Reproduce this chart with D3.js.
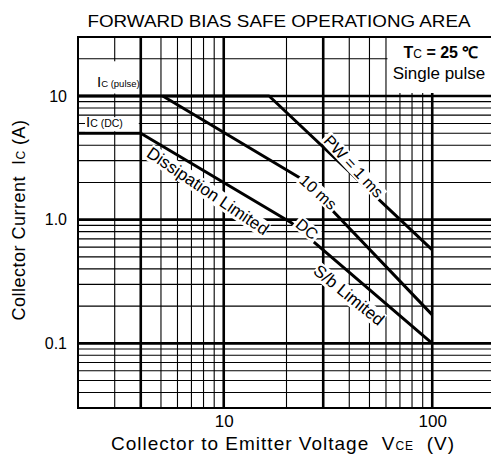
<!DOCTYPE html>
<html>
<head>
<meta charset="utf-8">
<script src="https://cdnjs.cloudflare.com/ajax/libs/d3/7.8.5/d3.min.js"></script>
<style>
  body { margin: 0; background: #fff; }
  svg { display: block; font-family: "Liberation Sans", Arial, sans-serif; }
  text { white-space: pre; }
</style>
</head>
<body>
<svg id="chart"></svg>
<script>
// axis tick labels
const xTicks = [10, 100];
const yTicks = [0.1, 1, 10];
const yTickLabels = ["0.1", "1.0", "10"];

// graph paper lines
const xGrid = [3, 4, 5, 6, 7, 8, 9, 10, 20, 30, 40, 50, 60, 70, 80, 90, 100];
const xGridHeavy = [4, 10, 30, 100];
const yGrid = [0.04, 0.05, 0.06, 0.07, 0.08, 0.09, 0.1, 0.2, 0.3, 0.4, 0.5, 0.6, 0.7, 0.8, 0.9,
  1, 2, 3, 4, 5, 6, 7, 8, 9, 10, 20];
const yGridHeavy = [0.1, 1, 10];

// limit curves, VCE (V) / IC (A)
const dcV = [2, 4, 21, 100];
const dcI = [5, 5, 0.95, 0.1];
const pw10V = [5.1, 24, 100];
const pw10I = [10, 2.1, 0.17];
const pw1V = [2, 16.5, 100];
const pw1I = [10, 10, 0.57];

const width = 491;
const height = 460;

const svg = d3.select("#chart").attr("width", width).attr("height", height);

const x = d3.scaleLog().domain([2, 200]).range([78, 495]);
const y = d3.scaleLog().domain([0.03, 30]).range([408, 37]);

// grid
svg.append("g")
  .selectAll("line")
  .data(xGrid)
  .enter()
  .append("line")
  .attr("x1", (d) => x(d))
  .attr("x2", (d) => x(d))
  .attr("y1", y(0.03))
  .attr("y2", y(30))
  .attr("stroke", "#000")
  .attr("stroke-width", (d) => (xGridHeavy.includes(d) ? 2.6 : 1.1));

svg.append("g")
  .selectAll("line")
  .data(yGrid)
  .enter()
  .append("line")
  .attr("x1", x(2))
  .attr("x2", x(200))
  .attr("y1", (d) => y(d))
  .attr("y2", (d) => y(d))
  .attr("stroke", "#000")
  .attr("stroke-width", (d) => (yGridHeavy.includes(d) ? 2.6 : 1.1));

// blank areas of the sheet (condition box, Ic(pulse) label)
svg.append("rect")
  .attr("x", x(60) + 1.5)
  .attr("y", y(30) + 1)
  .attr("width", x(200) - x(60))
  .attr("height", y(10) - y(30) - 4)
  .attr("fill", "#fff");

svg.append("rect")
  .attr("x", x(2) + 1)
  .attr("y", y(20) + 2.5)
  .attr("width", x(4) - x(2) - 3)
  .attr("height", y(10) - y(20) - 5)
  .attr("fill", "#fff");

// curves
const line = d3.line()
  .x((d) => x(d[0]))
  .y((d) => y(d[1]));

const curves = [
  d3.zip(dcV, dcI),
  d3.zip(pw10V, pw10I),
  d3.zip(pw1V, pw1I),
];

svg.append("g")
  .selectAll("path")
  .data(curves)
  .enter()
  .append("path")
  .attr("d", line)
  .attr("fill", "none")
  .attr("stroke", "#000")
  .attr("stroke-width", 3)
  .attr("stroke-linejoin", "round");

// frame
svg.append("path")
  .attr("d", `M${x(200)},${y(30)}H${x(2)}V${y(0.03)}H${x(200)}`)
  .attr("fill", "none")
  .attr("stroke", "#000")
  .attr("stroke-width", 2);

// labels on the curves, with white backing
function curveLabel(text, v, i, angle, size, pad) {
  const g = svg.append("g")
    .attr("transform", `translate(${x(v)},${y(i)}) rotate(${angle})`);
  const t = g.append("text")
    .attr("text-anchor", "middle")
    .attr("dy", "0.35em")
    .attr("font-size", size)
    .text(text);
  const b = t.node().getBBox();
  g.insert("rect", "text")
    .attr("x", b.x - pad)
    .attr("y", b.y + 1)
    .attr("width", b.width + 2 * pad)
    .attr("height", b.height - 2)
    .attr("fill", "#fff");
}

curveLabel("PW = 1 ms", 42, 2.7, 47, 16, 2);
curveLabel("10 ms", 28.4, 1.67, 42, 16, 2);
curveLabel("DC", 25.1, 0.84, 40, 16, 2);
curveLabel("Dissipation Limited", 8.4, 1.71, 34, 17, 0);
curveLabel("S/b Limited", 39.9, 0.246, 39, 17, 0);

// Ic(pulse) and Ic(DC) labels
const icPulse = svg.append("text")
  .attr("x", 97)
  .attr("y", 87)
  .attr("font-size", 15);
icPulse.append("tspan").text("I");
icPulse.append("tspan").attr("font-size", 9.5).text("C (pulse)");

const icDcBack = svg.append("rect").attr("fill", "#fff");
const icDc = svg.append("text")
  .attr("x", 86)
  .attr("y", 127)
  .attr("font-size", 15);
icDc.append("tspan").text("I");
icDc.append("tspan").attr("font-size", 10.5).text("C (DC)");
const db = icDc.node().getBBox();
icDcBack
  .attr("x", db.x - 1)
  .attr("y", y(7) + 2)
  .attr("width", x(4) - db.x - 1)
  .attr("height", y(5) - y(7) - 4);

// conditions
const tc = svg.append("text")
  .attr("x", 441)
  .attr("y", 58)
  .attr("text-anchor", "middle")
  .attr("font-size", 16)
  .attr("font-weight", "bold");
tc.append("tspan").text("T");
tc.append("tspan").attr("font-size", 12).attr("font-weight", "normal").text("C");
tc.append("tspan").text(" = 25 ℃");

svg.append("text")
  .attr("x", 439)
  .attr("y", 79)
  .attr("text-anchor", "middle")
  .attr("font-size", 17)
  .text("Single pulse");

// axes
const yAxis = svg.append("g")
  .attr("transform", `translate(${x(2)},0)`)
  .call(d3.axisLeft(y)
    .tickValues(yTicks)
    .tickFormat((d) => yTickLabels[yTicks.indexOf(d)])
    .tickSize(0)
    .tickPadding(11));
yAxis.select(".domain").remove();
yAxis.selectAll("text")
  .style("font-size", "16px")
  .style("font-family", "Liberation Sans, Arial, sans-serif")
  .attr("fill", "#000");

const xAxis = svg.append("g")
  .attr("transform", `translate(0,${y(0.03)})`)
  .call(d3.axisBottom(x)
    .tickValues(xTicks)
    .tickFormat(d3.format("d"))
    .tickSize(0)
    .tickPadding(7));
xAxis.select(".domain").remove();
xAxis.selectAll("text")
  .style("font-size", "17px")
  .style("font-family", "Liberation Sans, Arial, sans-serif")
  .attr("fill", "#000");

// titles
svg.append("text")
  .attr("x", 279)
  .attr("y", 27)
  .attr("text-anchor", "middle")
  .attr("font-size", 17)
  .attr("textLength", 383)
  .attr("lengthAdjust", "spacingAndGlyphs")
  .text("FORWARD BIAS SAFE OPERATIONG AREA");

const xTitle = svg.append("text")
  .attr("x", 283)
  .attr("y", 450)
  .attr("text-anchor", "middle")
  .attr("font-size", 19)
  .attr("letter-spacing", 1);
xTitle.append("tspan").text("Collector to Emitter Voltage  V");
xTitle.append("tspan").attr("font-size", 12).text("CE");
xTitle.append("tspan").text("  (V)");

const yTitle = svg.append("text")
  .attr("transform", "translate(25,220) rotate(-90)")
  .attr("text-anchor", "middle")
  .attr("font-size", 18)
  .attr("letter-spacing", 0.5);
yTitle.append("tspan").text("Collector Current  I");
yTitle.append("tspan").attr("font-size", 12).text("C");
yTitle.append("tspan").text(" (A)");
</script>
</body>
</html>
